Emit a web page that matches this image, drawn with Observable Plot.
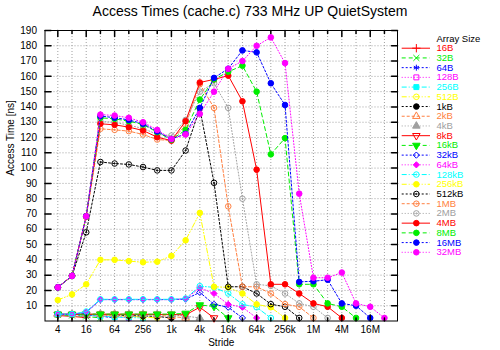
<!DOCTYPE html>
<html><head><meta charset="utf-8">
<script src="https://cdn.jsdelivr.net/npm/d3@7"></script>
<script src="https://cdn.jsdelivr.net/npm/@observablehq/plot@0.6"></script>
<style>
body{margin:0;background:#fff;}
#wrap{position:relative;width:500px;height:350px;font-family:"Liberation Sans",Arial,sans-serif;}
#chart{position:absolute;left:0;top:0;}
#legend{position:absolute;left:395px;top:0;}
#title{position:absolute;left:0;top:3px;width:500px;text-align:center;font-size:14px;color:#000;line-height:17px;}
</style></head><body>
<div id="wrap"><div id="chart"></div><div id="legend"></div><div id="title">Access Times (cache.c) 733 MHz UP QuietSystem</div></div>
<script>
// ---------- data ----------
const arraySizes = ["16B","32B","64B","128B","256B","512B","1kB","2kB","4kB","8kB","16kB","32kB","64kB","128kB","256kB","512kB","1MB","2MB","4MB","8MB","16MB","32MB"];
const strideExponents = [2,3,4,5,6,7,8,9,10,11,12,13,14,15,16,17,18,19,20,21,22,23,24,25]; // stride = 2^e bytes
const xTickExponents = [2,4,6,8,10,12,14,16,18,20,22,24];
const xTickLabels = ["4","16","64","256","1k","4k","16k","64k","256k","1M","4M","16M"];
const yTicks = [10,20,30,40,50,60,70,80,90,100,110,120,130,140,150,160,170,180,190];

// access time [ns] per array size, for strides 4, 8, 16, ... up to the array size
const t16B  = [3.6, 3.0, 2.2];
const t32B  = [4.0, 3.6, 3.0, 2.0];
const t64B  = [4.2, 4.2, 3.8, 3.2, 2.0];
const t128B = [4.5, 4.5, 4.2, 3.8, 3.2, 2.0];
const t256B = [4.6, 4.5, 4.3, 3.2, 2.6, 2.3, 2.0];
const t512B = [4.4, 4.4, 4.3, 4.0, 3.5, 3.0, 2.6, 2.0];
const t1kB  = [4.3, 4.3, 4.3, 4.3, 4.1, 3.5, 3.3, 3.0, 2.0];
const t2kB  = [4.3, 4.3, 4.4, 4.4, 4.4, 4.3, 4.2, 3.8, 3.0, 2.0];
const t4kB  = [4.3, 4.3, 4.4, 4.4, 4.4, 4.4, 4.3, 4.3, 4.0, 3.2, 2.0];
const t8kB  = [4.3, 4.3, 4.4, 4.4, 4.4, 4.4, 4.4, 4.3, 4.3, 4.0, 9.0, 2.0];
const t16kB = [4.3, 4.3, 4.5, 4.5, 4.5, 4.5, 4.5, 4.5, 4.5, 5.0, 10.5, 9.5, 2.0];
const t32kB = [4.4, 4.4, 5.5, 14, 14, 14, 14, 14, 14, 14.3, 18.7, 10.9, 9.0, 2.0];
const t64kB = [4.4, 4.4, 5.8, 14, 14, 14, 14, 14, 14, 14.5, 21.7, 18, 10.9, 9.0, 2.0];
const t128kB = [4.5, 4.5, 6.2, 14.2, 14.2, 14.2, 14.2, 14.2, 14.2, 14.7, 22.8, 22, 18, 10.9, 9.0, 2.0];
const t256kB = [13.7, 17.4, 24, 40, 40, 39.2, 38.4, 38.8, 42.6, 52.8, 70.7, 22.4, 22, 18, 10.9, 9.0, 2.0];
const t512kB = [22, 29.5, 58, 104, 103, 102.4, 100.7, 98.5, 98.5, 111.5, 139, 90.4, 22.4, 22.4, 18, 11, 9.3, 2.0];
const t1MB  = [22, 29.5, 68, 125.7, 125, 124.2, 122, 118.7, 118, 128, 155, 139.4, 75, 22.4, 22.4, 18, 11, 9.3, 2.0];
const t2MB  = [22, 29.5, 68.5, 130.5, 130, 128, 126, 122, 121.3, 131.5, 150, 155.5, 139.4, 80, 24, 23, 18, 11.5, 9.3, 2.0];
const t4MB  = [22, 29.5, 68.5, 129, 128.3, 126.8, 124.6, 120.2, 118, 130.7, 156, 158, 160.5, 143.7, 99, 24, 24, 18, 11.5, 9.3, 2.0];
const t8MB  = [22, 29.5, 68.5, 132.9, 132.2, 130.7, 128.5, 123.5, 118.5, 125, 144.8, 158, 163, 167, 150, 109, 119.6, 24, 24, 11.5, 9.3, 2.0];
const t16MB = [22, 29.5, 68.5, 134, 133, 131.5, 129, 124, 119, 122.4, 139.4, 159, 165, 177, 175.7, 155.5, 141.3, 25.6, 26, 27, 11.5, 10, 2.0];
const t32MB = [22, 29.5, 68.5, 135, 134.4, 132.9, 130, 125, 119, 122, 135.5, 150, 165, 170, 180, 185.5, 168.7, 83.3, 28.3, 28.3, 31.7, 11.5, 9.3, 2.0];
const timesBySize = [t16B,t32B,t64B,t128B,t256B,t512B,t1kB,t2kB,t4kB,t8kB,t16kB,t32kB,t64kB,t128kB,t256kB,t512kB,t1MB,t2MB,t4MB,t8MB,t16MB,t32MB];

// ---------- styles ----------
const palette = ["#ff0000","#00ee00","#0000ff","#ff00ff","#00ffff","#ffff00","#000000","#ff7f40","#a0a0a0"];
const dashes = [null,"4,3","2,2","1,2","5,2,1,2","5,2,1,2,1,2","2,2","3,2","1,2"];
const sqrt3 = Math.sqrt(3);
const triDown = {draw(ctx, size){ const y = -Math.sqrt(size/(sqrt3*3)); ctx.moveTo(0,-y*2); ctx.lineTo(-sqrt3*y, y); ctx.lineTo(sqrt3*y, y); ctx.closePath(); }};
const circleDot = {draw(ctx, size){ const r = Math.sqrt(size/Math.PI); ctx.moveTo(r,0); ctx.arc(0,0,r,0,2*Math.PI); ctx.moveTo(0.6,0); ctx.arc(0,0,0.6,0,2*Math.PI); }};
const symbols = ["plus","times","asterisk","square","square","circle","circle","triangle","triangle",triDown,triDown,"diamond2","diamond2",circleDot,"circle",circleDot,circleDot,circleDot,"circle","circle","circle","circle"];
const filled  = [0,0,0,0,1,0,1,0,1,0,1,0,1,0,1,0,0,0,1,1,1,1];

const series = arraySizes.map((name, i) => ({
  name,
  color: palette[i % 9],
  dash: dashes[i % 9],
  symbol: symbols[i],
  filled: !!filled[i],
  points: timesBySize[i].map((t, j) => ({stride: 2 ** strideExponents[j], time: t}))
}));

const font = "Liberation Sans, Arial, sans-serif";
const xTickValues = xTickExponents.map(e => 2 ** e);
const gridStrides = strideExponents.map(e => 2 ** e);
const minorStrides = strideExponents.filter(e => e % 2 === 1).map(e => 2 ** e);
const tickShape = {draw(ctx, l){ ctx.moveTo(0,0); ctx.lineTo(0,-l); }};

const marks = [
  Plot.ruleY(yTicks.filter(v => v < 190), {y: d => d, stroke: "#a0a0a0", strokeWidth: 1, strokeDasharray: "1,2"}),
  Plot.ruleX(gridStrides, {x: d => d, stroke: "#a0a0a0", strokeWidth: 1, strokeDasharray: "1,2"})
];
series.forEach(s => {
  marks.push(Plot.line(s.points, {x: "stride", y: "time", stroke: s.color, strokeWidth: 1, strokeDasharray: s.dash}));
  marks.push(Plot.dot(s.points, {x: "stride", y: "time", symbol: () => s.symbol, r: 2.8, stroke: s.color, strokeWidth: 1, fill: s.filled ? s.color : "none"}));
});
marks.push(
  Plot.frame({stroke: "#000", strokeWidth: 1}),
  // inward ticks on all four sides
  Plot.vector(xTickValues, {x: d => d, frameAnchor: "bottom", length: 6, rotate: 0, anchor: "start", shape: tickShape, stroke: "#000"}),
  Plot.vector(minorStrides, {x: d => d, frameAnchor: "bottom", length: 3, rotate: 0, anchor: "start", shape: tickShape, stroke: "#000"}),
  Plot.vector(xTickValues, {x: d => d, frameAnchor: "top", length: 6, rotate: 180, anchor: "start", shape: tickShape, stroke: "#000"}),
  Plot.vector(minorStrides, {x: d => d, frameAnchor: "top", length: 3, rotate: 180, anchor: "start", shape: tickShape, stroke: "#000"}),
  Plot.vector(yTicks, {y: d => d, frameAnchor: "left", length: 6, rotate: 90, anchor: "start", shape: tickShape, stroke: "#000"}),
  Plot.vector(yTicks, {y: d => d, frameAnchor: "right", length: 6, rotate: 270, anchor: "start", shape: tickShape, stroke: "#000"}),
  Plot.axisX({ticks: xTickValues, tickSize: 0, tickPadding: 5, label: null, fontSize: 10,
    tickFormat: d => xTickLabels[xTickValues.indexOf(d)]}),
  Plot.axisY({ticks: yTicks, tickSize: 0, tickPadding: 8, label: null, fontSize: 10}),
  Plot.text(["Stride"], {frameAnchor: "bottom", dy: 25, text: d => d, fontSize: 10, fill: "#000"}),
  Plot.text(["Access Time [ns]"], {frameAnchor: "left", dx: -34, rotate: -90, text: d => d, fontSize: 10, fill: "#000"})
);

const chart = Plot.plot({
  width: 500, height: 350,
  marginLeft: 44.5, marginRight: 103, marginTop: 30, marginBottom: 29.5,
  style: {fontFamily: font, fontSize: "10px", color: "#000", background: "transparent"},
  x: {type: "log", base: 2, domain: [2.14, 6.35e7]},
  y: {domain: [0, 190]},
  marks
});
document.getElementById("chart").append(chart);

// ---------- legend ----------
const legendRows = ["Array Size", ...arraySizes];
const lmarks = [
  Plot.text(["Array Size"], {x: () => 1, y: d => d, dx: 6, textAnchor: "start", text: d => d, fill: "#000", fontSize: 9.5})
];
series.forEach(s => {
  lmarks.push(Plot.ruleY([s.name], {y: d => d, x1: () => 0, x2: () => 1, stroke: s.color, strokeWidth: 1, strokeDasharray: s.dash}));
  lmarks.push(Plot.dot([s.name], {y: d => d, x: () => 0.5, symbol: () => s.symbol, r: 2.8, stroke: s.color, strokeWidth: 1, fill: s.filled ? s.color : "none"}));
  lmarks.push(Plot.text([s.name], {y: d => d, x: () => 1, dx: 6, textAnchor: "start", text: d => d, fill: s.color, fontSize: 9.5}));
});
const legend = Plot.plot({
  width: 105, height: 262,
  marginLeft: 0, marginRight: 0, marginTop: 38, marginBottom: 10.2,
  style: {fontFamily: font, fontSize: "9.5px", background: "transparent"},
  x: {domain: [0, 1], range: [6.7, 35], axis: null},
  y: {type: "point", domain: legendRows, padding: 0, round: false, axis: null},
  marks: lmarks
});
document.getElementById("legend").append(legend);
</script>
</body></html>
